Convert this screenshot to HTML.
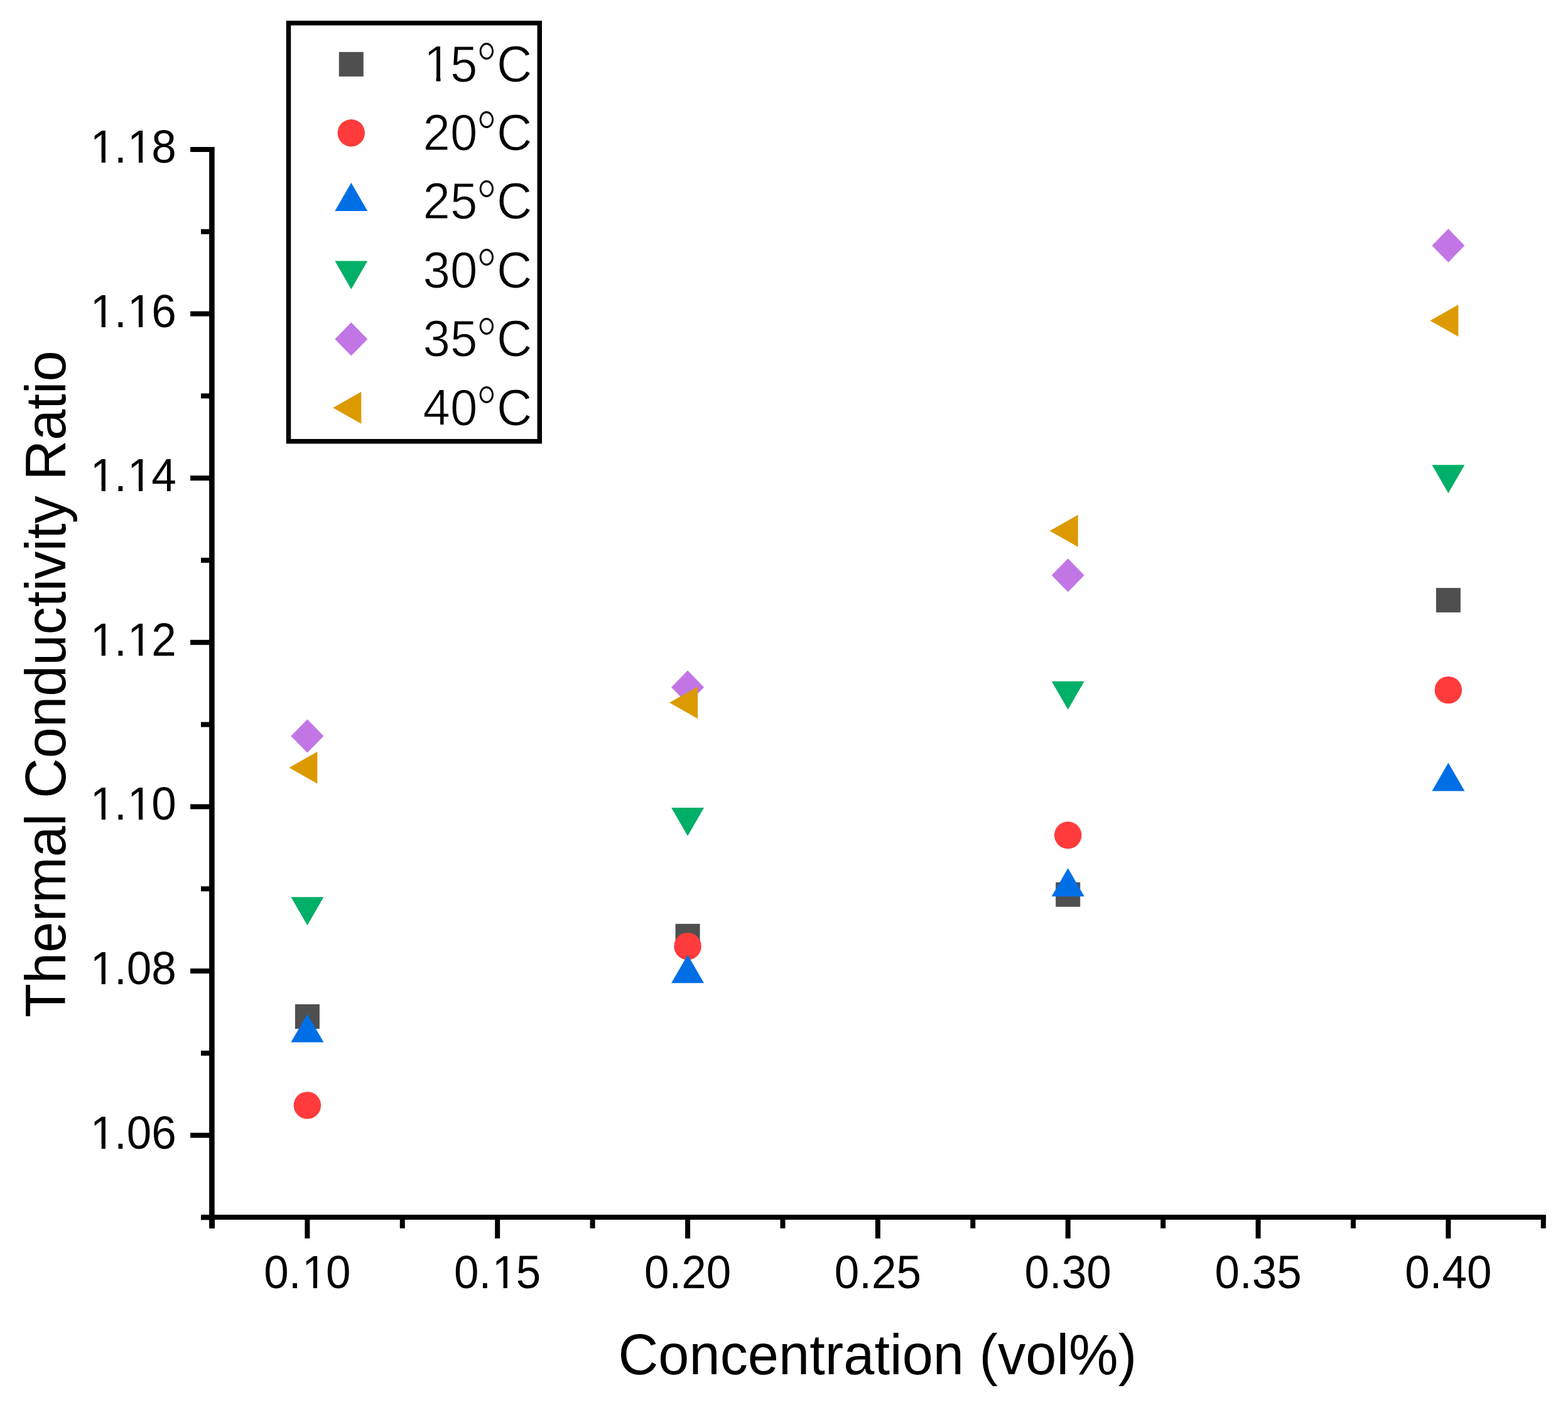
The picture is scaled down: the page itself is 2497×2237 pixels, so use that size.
<!DOCTYPE html>
<html><head><meta charset="utf-8"><title>Thermal Conductivity Ratio vs Concentration</title>
<style>html,body{margin:0;padding:0;background:#fff;}svg{display:block;}</style>
</head><body>
<svg xmlns="http://www.w3.org/2000/svg" width="2497" height="2237" viewBox="0 0 2497 2237">
<rect width="2497" height="2237" fill="#fff"/>
<g fill="#000">
<rect x="333.1" y="234.0" width="8.6" height="1721.7"/>
<rect x="321.0" y="1934.0" width="2140.6" height="8.0"/>
<rect x="320.0" y="1934.4" width="14.1" height="8.0"/>
<rect x="303.1" y="1803.6" width="31.0" height="8.0"/>
<rect x="320.0" y="1672.8" width="14.1" height="8.0"/>
<rect x="303.1" y="1542.0" width="31.0" height="8.0"/>
<rect x="320.0" y="1411.2" width="14.1" height="8.0"/>
<rect x="303.1" y="1280.4" width="31.0" height="8.0"/>
<rect x="320.0" y="1149.6" width="14.1" height="8.0"/>
<rect x="303.1" y="1018.8" width="31.0" height="8.0"/>
<rect x="320.0" y="888.0" width="14.1" height="8.0"/>
<rect x="303.1" y="757.2" width="31.0" height="8.0"/>
<rect x="320.0" y="626.4" width="14.1" height="8.0"/>
<rect x="303.1" y="495.6" width="31.0" height="8.0"/>
<rect x="320.0" y="364.8" width="14.1" height="8.0"/>
<rect x="303.1" y="234.0" width="31.0" height="8.0"/>
<rect x="334.0" y="1935.0" width="8.0" height="20.7"/>
<rect x="485.4" y="1935.0" width="8.0" height="36.8"/>
<rect x="636.8" y="1935.0" width="8.0" height="20.7"/>
<rect x="788.2" y="1935.0" width="8.0" height="36.8"/>
<rect x="939.6" y="1935.0" width="8.0" height="20.7"/>
<rect x="1091.1" y="1935.0" width="8.0" height="36.8"/>
<rect x="1242.5" y="1935.0" width="8.0" height="20.7"/>
<rect x="1393.9" y="1935.0" width="8.0" height="36.8"/>
<rect x="1545.3" y="1935.0" width="8.0" height="20.7"/>
<rect x="1696.7" y="1935.0" width="8.0" height="36.8"/>
<rect x="1848.2" y="1935.0" width="8.0" height="20.7"/>
<rect x="1999.6" y="1935.0" width="8.0" height="36.8"/>
<rect x="2151.0" y="1935.0" width="8.0" height="20.7"/>
<rect x="2302.4" y="1935.0" width="8.0" height="36.8"/>
<rect x="2453.8" y="1935.0" width="8.0" height="20.7"/>
</g>
<g font-family="&quot;Liberation Sans&quot;, Arial, sans-serif" font-size="72.5" fill="#000">
<g transform="translate(280.70,1828.60) scale(0.98,1.02)"><text x="-141.11" y="0.00" dx="1.42 -1.42 0.00 0.00">1.06</text><g fill="#fff"><rect x="-135.37" y="-7.02" width="13.91" height="8.22"/><rect x="-115.05" y="-7.02" width="13.34" height="8.22"/></g></g>
<g transform="translate(280.70,1567.00) scale(0.98,1.02)"><text x="-141.11" y="0.00" dx="1.42 -1.42 0.00 0.00">1.08</text><g fill="#fff"><rect x="-135.37" y="-7.02" width="13.91" height="8.22"/><rect x="-115.05" y="-7.02" width="13.34" height="8.22"/></g></g>
<g transform="translate(280.70,1305.40) scale(0.98,1.02)"><text x="-141.11" y="0.00" dx="1.42 -1.42 1.42 -1.42">1.10</text><g fill="#fff"><rect x="-135.37" y="-7.02" width="13.91" height="8.22"/><rect x="-115.05" y="-7.02" width="13.34" height="8.22"/><rect x="-74.90" y="-7.02" width="13.91" height="8.22"/><rect x="-54.59" y="-7.02" width="13.34" height="8.22"/></g></g>
<g transform="translate(280.70,1043.80) scale(0.98,1.02)"><text x="-141.11" y="0.00" dx="1.42 -1.42 1.42 -1.42">1.12</text><g fill="#fff"><rect x="-135.37" y="-7.02" width="13.91" height="8.22"/><rect x="-115.05" y="-7.02" width="13.34" height="8.22"/><rect x="-74.90" y="-7.02" width="13.91" height="8.22"/><rect x="-54.59" y="-7.02" width="13.34" height="8.22"/></g></g>
<g transform="translate(280.70,782.20) scale(0.98,1.02)"><text x="-141.11" y="0.00" dx="1.42 -1.42 1.42 -1.42">1.14</text><g fill="#fff"><rect x="-135.37" y="-7.02" width="13.91" height="8.22"/><rect x="-115.05" y="-7.02" width="13.34" height="8.22"/><rect x="-74.90" y="-7.02" width="13.91" height="8.22"/><rect x="-54.59" y="-7.02" width="13.34" height="8.22"/></g></g>
<g transform="translate(280.70,520.60) scale(0.98,1.02)"><text x="-141.11" y="0.00" dx="1.42 -1.42 1.42 -1.42">1.16</text><g fill="#fff"><rect x="-135.37" y="-7.02" width="13.91" height="8.22"/><rect x="-115.05" y="-7.02" width="13.34" height="8.22"/><rect x="-74.90" y="-7.02" width="13.91" height="8.22"/><rect x="-54.59" y="-7.02" width="13.34" height="8.22"/></g></g>
<g transform="translate(280.70,259.00) scale(0.98,1.02)"><text x="-141.11" y="0.00" dx="1.42 -1.42 1.42 -1.42">1.18</text><g fill="#fff"><rect x="-135.37" y="-7.02" width="13.91" height="8.22"/><rect x="-115.05" y="-7.02" width="13.34" height="8.22"/><rect x="-74.90" y="-7.02" width="13.91" height="8.22"/><rect x="-54.59" y="-7.02" width="13.34" height="8.22"/></g></g>
<g transform="translate(489.40,2051.00) scale(0.98,1.02)"><text x="-70.55" y="0.00" dx="0.00 0.00 1.42 -1.42">0.10</text><g fill="#fff"><rect x="-4.35" y="-7.02" width="13.91" height="8.22"/><rect x="15.97" y="-7.02" width="13.34" height="8.22"/></g></g>
<g transform="translate(792.23,2051.00) scale(0.98,1.02)"><text x="-70.55" y="0.00" dx="0.00 0.00 1.42 -1.42">0.15</text><g fill="#fff"><rect x="-4.35" y="-7.02" width="13.91" height="8.22"/><rect x="15.97" y="-7.02" width="13.34" height="8.22"/></g></g>
<g transform="translate(1095.07,2051.00) scale(0.98,1.02)"><text x="-70.55" y="0.00" dx="0.00 0.00 0.00 0.00">0.20</text><g fill="#fff"></g></g>
<g transform="translate(1397.90,2051.00) scale(0.98,1.02)"><text x="-70.55" y="0.00" dx="0.00 0.00 0.00 0.00">0.25</text><g fill="#fff"></g></g>
<g transform="translate(1700.73,2051.00) scale(0.98,1.02)"><text x="-70.55" y="0.00" dx="0.00 0.00 0.00 0.00">0.30</text><g fill="#fff"></g></g>
<g transform="translate(2003.57,2051.00) scale(0.98,1.02)"><text x="-70.55" y="0.00" dx="0.00 0.00 0.00 0.00">0.35</text><g fill="#fff"></g></g>
<g transform="translate(2306.40,2051.00) scale(0.98,1.02)"><text x="-70.55" y="0.00" dx="0.00 0.00 0.00 0.00">0.40</text><g fill="#fff"></g></g>
</g>
<text transform="translate(1397.3,2187.5) scale(0.972,1)" font-family="&quot;Liberation Sans&quot;, Arial, sans-serif" font-size="91" text-anchor="middle" fill="#000">Concentration (vol%)</text>
<text transform="translate(104,1089.1) rotate(-90) scale(0.972,1)" font-family="&quot;Liberation Sans&quot;, Arial, sans-serif" font-size="91" text-anchor="middle" fill="#000">Thermal Conductivity Ratio</text>
<rect x="469.9" y="1599.0" width="39" height="39" fill="#4f4f4f"/>
<rect x="1075.6" y="1470.9" width="39" height="39" fill="#4f4f4f"/>
<rect x="1681.2" y="1404.8" width="39" height="39" fill="#4f4f4f"/>
<rect x="2286.9" y="936.1" width="39" height="39" fill="#4f4f4f"/>
<circle cx="489.4" cy="1759.9" r="21.7" fill="#ff3b3b"/>
<circle cx="1095.1" cy="1506.6" r="21.7" fill="#ff3b3b"/>
<circle cx="1700.7" cy="1329.8" r="21.7" fill="#ff3b3b"/>
<circle cx="2306.4" cy="1098.6" r="21.7" fill="#ff3b3b"/>
<polygon points="489.4,1614.4 515.4,1659.4 463.4,1659.4" fill="#006fe6"/>
<polygon points="1095.1,1520.3 1121.1,1565.3 1069.1,1565.3" fill="#006fe6"/>
<polygon points="1700.7,1382.3 1726.7,1427.3 1674.7,1427.3" fill="#006fe6"/>
<polygon points="2306.4,1214.4 2332.4,1259.4 2280.4,1259.4" fill="#006fe6"/>
<polygon points="489.4,1473.3 515.4,1428.3 463.4,1428.3" fill="#00af68"/>
<polygon points="1095.1,1331.0 1121.1,1286.0 1069.1,1286.0" fill="#00af68"/>
<polygon points="1700.7,1129.8 1726.7,1084.8 1674.7,1084.8" fill="#00af68"/>
<polygon points="2306.4,785.2 2332.4,740.2 2280.4,740.2" fill="#00af68"/>
<polygon points="489.4,1145.2 515.4,1171.9 489.4,1198.6 463.4,1171.9" fill="#c276e6"/>
<polygon points="1095.1,1067.5 1121.1,1094.2 1095.1,1120.9 1069.1,1094.2" fill="#c276e6"/>
<polygon points="1700.7,889.2 1726.7,915.9 1700.7,942.6 1674.7,915.9" fill="#c276e6"/>
<polygon points="2306.4,364.3 2332.4,391.0 2306.4,417.7 2280.4,391.0" fill="#c276e6"/>
<polygon points="460.4,1222.2 505.4,1196.7 505.4,1247.7" fill="#dd9a00"/>
<polygon points="1066.1,1118.7 1111.1,1093.2 1111.1,1144.2" fill="#dd9a00"/>
<polygon points="1671.7,845.3 1716.7,819.8 1716.7,870.8" fill="#dd9a00"/>
<polygon points="2277.4,510.5 2322.4,485.0 2322.4,536.0" fill="#dd9a00"/>
<rect x="459.5" y="36.7" width="399.8" height="666" fill="none" stroke="#000" stroke-width="7.5"/>
<rect x="539.8" y="82.8" width="39" height="39" fill="#4f4f4f"/>
<g transform="translate(0,129.5) scale(1,1.05)" font-family="&quot;Liberation Sans&quot;, Arial, sans-serif" fill="#000"><text x="673.50" y="0.00" dx="1.52 -1.52" font-size="78" stroke="#fff" stroke-width="1.0">15</text><text transform="translate(757.8,-31.62) scale(1,1.16)" x="0" y="35.95" font-size="85.6" stroke="#fff" stroke-width="1.6">°</text><text x="791" y="0" font-size="78" stroke="#fff" stroke-width="1.0">C</text><g fill="#fff"><rect x="679.76" y="-7.43" width="14.87" height="8.63"/><rect x="701.53" y="-7.43" width="14.26" height="8.63"/></g></g>
<circle cx="559.3" cy="211.7" r="21.7" fill="#ff3b3b"/>
<g transform="translate(0,238.9) scale(1,1.05)" font-family="&quot;Liberation Sans&quot;, Arial, sans-serif" fill="#000"><text x="673.50" y="0.00" dx="0.00 0.00" font-size="78" stroke="#fff" stroke-width="1.0">20</text><text transform="translate(757.8,-31.62) scale(1,1.16)" x="0" y="35.95" font-size="85.6" stroke="#fff" stroke-width="1.6">°</text><text x="791" y="0" font-size="78" stroke="#fff" stroke-width="1.0">C</text><g fill="#fff"></g></g>
<polygon points="559.3,291.1 585.3,336.1 533.3,336.1" fill="#006fe6"/>
<g transform="translate(0,348.3) scale(1,1.05)" font-family="&quot;Liberation Sans&quot;, Arial, sans-serif" fill="#000"><text x="673.50" y="0.00" dx="0.00 0.00" font-size="78" stroke="#fff" stroke-width="1.0">25</text><text transform="translate(757.8,-31.62) scale(1,1.16)" x="0" y="35.95" font-size="85.6" stroke="#fff" stroke-width="1.6">°</text><text x="791" y="0" font-size="78" stroke="#fff" stroke-width="1.0">C</text><g fill="#fff"></g></g>
<polygon points="559.3,460.5 585.3,415.5 533.3,415.5" fill="#00af68"/>
<g transform="translate(0,457.7) scale(1,1.05)" font-family="&quot;Liberation Sans&quot;, Arial, sans-serif" fill="#000"><text x="673.50" y="0.00" dx="0.00 0.00" font-size="78" stroke="#fff" stroke-width="1.0">30</text><text transform="translate(757.8,-31.62) scale(1,1.16)" x="0" y="35.95" font-size="85.6" stroke="#fff" stroke-width="1.6">°</text><text x="791" y="0" font-size="78" stroke="#fff" stroke-width="1.0">C</text><g fill="#fff"></g></g>
<polygon points="559.3,513.2 585.3,539.9 559.3,566.6 533.3,539.9" fill="#c276e6"/>
<g transform="translate(0,567.1) scale(1,1.05)" font-family="&quot;Liberation Sans&quot;, Arial, sans-serif" fill="#000"><text x="673.50" y="0.00" dx="0.00 0.00" font-size="78" stroke="#fff" stroke-width="1.0">35</text><text transform="translate(757.8,-31.62) scale(1,1.16)" x="0" y="35.95" font-size="85.6" stroke="#fff" stroke-width="1.6">°</text><text x="791" y="0" font-size="78" stroke="#fff" stroke-width="1.0">C</text><g fill="#fff"></g></g>
<polygon points="530.3,649.3 575.3,623.8 575.3,674.8" fill="#dd9a00"/>
<g transform="translate(0,676.5) scale(1,1.05)" font-family="&quot;Liberation Sans&quot;, Arial, sans-serif" fill="#000"><text x="673.50" y="0.00" dx="0.00 0.00" font-size="78" stroke="#fff" stroke-width="1.0">40</text><text transform="translate(757.8,-31.62) scale(1,1.16)" x="0" y="35.95" font-size="85.6" stroke="#fff" stroke-width="1.6">°</text><text x="791" y="0" font-size="78" stroke="#fff" stroke-width="1.0">C</text><g fill="#fff"></g></g>
</svg>
</body></html>
